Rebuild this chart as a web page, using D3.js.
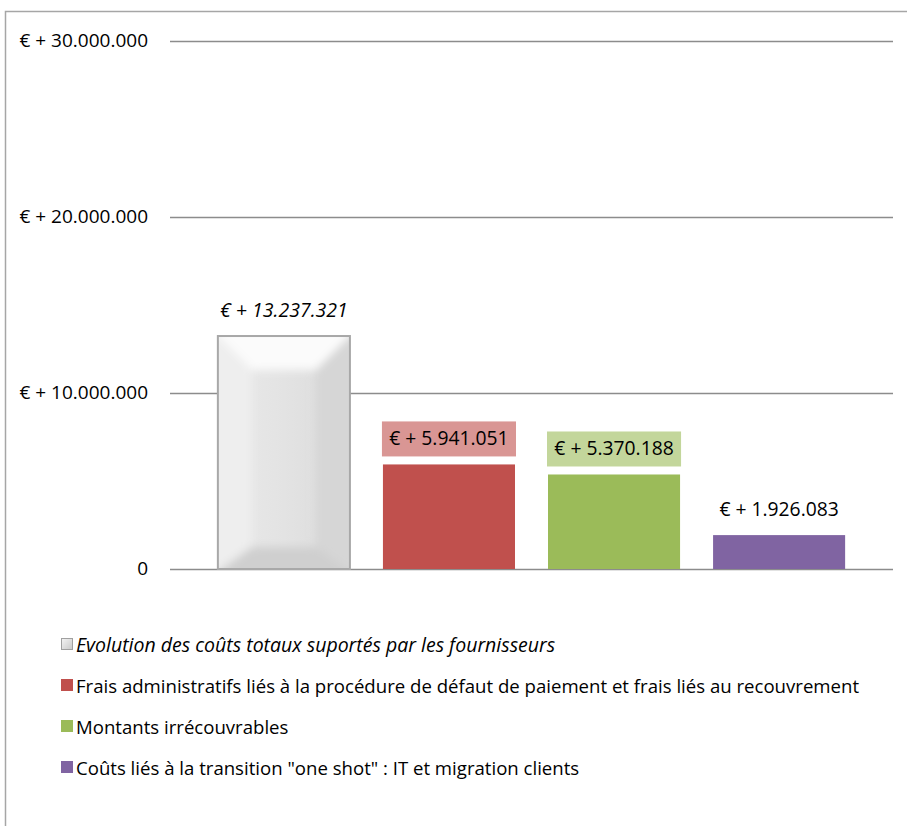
<!DOCTYPE html>
<html>
<head>
<meta charset="utf-8">
<script src="https://cdn.jsdelivr.net/npm/d3@7"></script>
<style>
  body { margin: 0; background: #fff; }
  text { font-family: "Open Sans", sans-serif; fill: #000; }
</style>
</head>
<body>
<svg width="907" height="826"></svg>
<script>
// data
const series = [
  "Evolution des coûts totaux suportés par les fournisseurs",
  "Frais administratifs liés à la procédure de défaut de paiement et frais liés au recouvrement",
  "Montants irrécouvrables",
  "Coûts liés à la transition \"one shot\" : IT et migration clients"
];
const values = [13237321, 5941051, 5370188, 1926083];
const yTicks = [0, 10000000, 20000000, 30000000];

const colors = ["url(#bevelGrad)", "#C0504D", "#9BBB59", "#8064A2"];
// label box colours per bar (second and third bars only)
const boxFill = [null, "#D99694", "#C3D69B", null];

const svg = d3.select("svg"),
  width = +svg.attr("width"),
  height = +svg.attr("height");

// chart frame
svg.append("rect")
  .attr("x", 5.5).attr("y", 11.5)
  .attr("width", 1000).attr("height", 1000)
  .attr("fill", "none")
  .attr("stroke", "#a6a6a6")
  .attr("stroke-width", 1.5);

const defs = svg.append("defs");
const grad = defs.append("linearGradient").attr("id", "bevelGrad")
  .attr("x1", 0).attr("x2", 1).attr("y1", 0).attr("y2", 0);
grad.append("stop").attr("offset", "0%").attr("stop-color", "#eaeaea");
grad.append("stop").attr("offset", "50%").attr("stop-color", "#e3e3e3");
grad.append("stop").attr("offset", "100%").attr("stop-color", "#dadada");
const iconGrad = defs.append("linearGradient").attr("id", "iconGrad")
  .attr("x1", 0).attr("x2", 1).attr("y1", 0).attr("y2", 1);
iconGrad.append("stop").attr("offset", "0%").attr("stop-color", "#f4f4f4");
iconGrad.append("stop").attr("offset", "100%").attr("stop-color", "#c8c8c8");
const blur = defs.append("filter").attr("id", "soft");
blur.append("feGaussianBlur").attr("stdDeviation", 4);
const clip = defs.append("clipPath").attr("id", "barClip");

const y = d3.scaleLinear().domain([0, 30000000]).range([569, 41]);
const x = d3.scaleBand()
  .domain(d3.range(series.length))
  .range([170, 893])
  .paddingInner(0.2)
  .paddingOuter(0.29);

// y axis grid lines and labels
const fmt = (v) => v === 0 ? "0" : "€ + " + d3.format(",")(v).replace(/,/g, ".");
const grid = svg.append("g");
grid.selectAll("line")
  .data(yTicks)
  .enter()
  .append("line")
  .attr("x1", 170).attr("x2", 893)
  .attr("y1", (d) => Math.round(y(d)) + 0.5)
  .attr("y2", (d) => Math.round(y(d)) + 0.5)
  .attr("stroke", "#8c8c8c")
  .attr("stroke-width", 1.5);
grid.selectAll("text")
  .data(yTicks)
  .enter()
  .append("text")
  .attr("x", 148)
  .attr("y", (d) => y(d) + 6)
  .attr("text-anchor", "end")
  .style("font-size", "19px")
  .text(fmt);

// bars
const bars = svg.append("g");
values.forEach((v, i) => {
  const x0 = x(i), w = x.bandwidth(), y0 = y(v), h = y(0) - y(v);
  if (i === 0) {
    clip.append("rect").attr("x", x0).attr("y", y0).attr("width", w).attr("height", h);
    const g = bars.append("g");
    g.append("rect")
      .attr("x", x0).attr("y", y0).attr("width", w).attr("height", h)
      .attr("fill", colors[0]);
    const b = 34, bb = 22;
    // bevel facets, softened
    const facets = g.append("g").attr("clip-path", "url(#barClip)")
      .append("g").attr("filter", "url(#soft)");
    facets.append("polygon")
      .attr("points", [[x0 - 10, y0 - 10], [x0 + w + 10, y0 - 10], [x0 + w - b, y0 + b], [x0 + b, y0 + b]].join(" "))
      .attr("fill", "#fbfbfb");
    facets.append("polygon")
      .attr("points", [[x0 - 10, y0 - 10], [x0 + b, y0 + b], [x0 + b, y0 + h - bb], [x0 - 10, y0 + h + 10]].join(" "))
      .attr("fill", "#eeeeee");
    facets.append("polygon")
      .attr("points", [[x0 + w + 10, y0 - 10], [x0 + w - b, y0 + b], [x0 + w - b, y0 + h - bb], [x0 + w + 10, y0 + h + 10]].join(" "))
      .attr("fill", "#d6d6d6");
    facets.append("polygon")
      .attr("points", [[x0 - 10, y0 + h + 10], [x0 + b, y0 + h - bb], [x0 + w - b, y0 + h - bb], [x0 + w + 10, y0 + h + 10]].join(" "))
      .attr("fill", "#cfcfcf");
    g.append("rect")
      .attr("x", x0).attr("y", y0).attr("width", w).attr("height", h)
      .attr("fill", "none")
      .attr("stroke", "#a8a8a8")
      .attr("stroke-width", 2);
  } else {
    bars.append("rect")
      .attr("x", x0).attr("y", y0).attr("width", w).attr("height", h)
      .attr("fill", colors[i]);
  }
});

// data labels
values.forEach((v, i) => {
  const cx = x(i) + x.bandwidth() / 2;
  if (boxFill[i]) {
    svg.append("rect")
      .attr("x", x(i) - 1).attr("y", y(v) - 43)
      .attr("width", x.bandwidth() + 2).attr("height", 35)
      .attr("fill", boxFill[i]);
  }
  svg.append("text")
    .attr("x", cx)
    .attr("y", y(v) - 19)
    .attr("text-anchor", "middle")
    .style("font-size", i === 0 ? "19.5px" : "19.3px")
    .style("font-style", i === 0 ? "italic" : "normal")
    .text(fmt(v));
});

// legend
const legend = svg.append("g");
series.forEach((s, i) => {
  const ly = 645 + i * 41;
  if (i === 0) {
    legend.append("rect")
      .attr("x", 61.5).attr("y", ly - 6.5).attr("width", 11).attr("height", 11)
      .attr("fill", "url(#iconGrad)").attr("stroke", "#a0a0a0");
  } else {
    legend.append("rect")
      .attr("x", 61).attr("y", ly - 7).attr("width", 12).attr("height", 12)
      .attr("fill", colors[i]);
  }
  legend.append("text")
    .attr("x", 76)
    .attr("y", ly + 6.5)
    .style("font-size", i === 0 ? "19.5px" : "18.6px")
    .style("font-style", i === 0 ? "italic" : "normal")
    .text(s);
});
</script>
</body>
</html>
